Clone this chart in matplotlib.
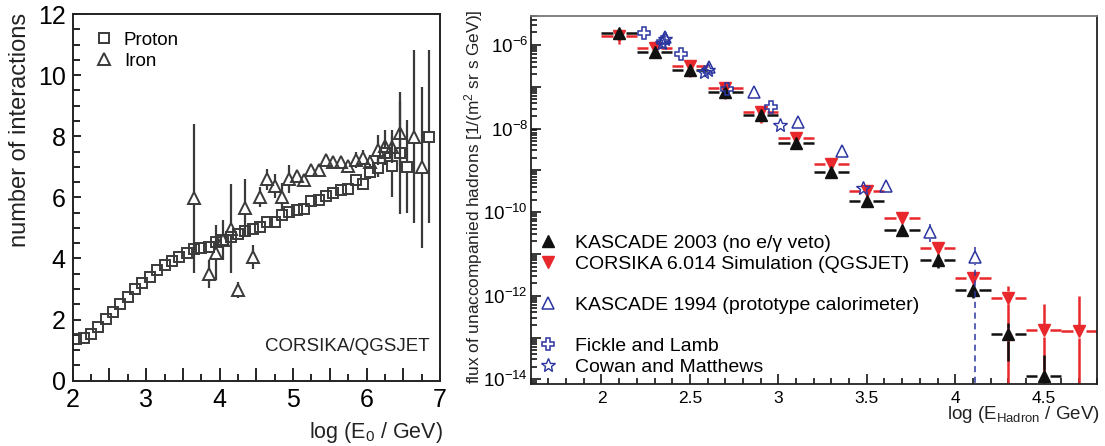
import numpy as np
import matplotlib
matplotlib.use('Agg')
import matplotlib.pyplot as plt
from matplotlib.ticker import MultipleLocator, FuncFormatter, LogLocator, NullFormatter
from matplotlib.lines import Line2D

plt.rcParams['font.family'] = ['Liberation Sans', 'DejaVu Sans']
plt.rcParams['mathtext.default'] = 'regular'

# ---- left panel: number of interactions ----
proton_x = [2.05, 2.15, 2.25, 2.35, 2.45, 2.55, 2.65, 2.75, 2.85, 2.95,
            3.05, 3.15, 3.25, 3.35, 3.45, 3.55, 3.65, 3.75, 3.85, 3.95,
            4.05, 4.15, 4.25, 4.35, 4.45, 4.55, 4.65, 4.75, 4.85, 4.95,
            5.05, 5.15, 5.25, 5.35, 5.45, 5.55, 5.65, 5.75, 5.85, 5.95,
            6.05, 6.15, 6.25, 6.35, 6.45, 6.55, 6.85]
proton_n = [1.35, 1.39, 1.53, 1.77, 2.01, 2.26, 2.50, 2.75, 3.00, 3.21,
            3.40, 3.62, 3.79, 3.93, 4.04, 4.19, 4.30, 4.33, 4.39, 4.55,
            4.60, 4.69, 4.80, 4.91, 4.95, 5.04, 5.20, 5.20, 5.42, 5.51,
            5.59, 5.62, 5.89, 5.91, 6.04, 6.15, 6.24, 6.26, 6.57, 6.44,
            6.84, 6.95, 7.46, 7.02, 7.46, 7.00, 7.98]
proton_err = [0.03, 0.03, 0.03, 0.03, 0.04, 0.04, 0.04, 0.05, 0.05, 0.05,
              0.06, 0.06, 0.07, 0.08, 0.2, 0.1, 0.1, 0.1, 0.1, 0.1,
              0.1, 0.1, 0.1, 0.1, 0.1, 0.1, 0.1, 0.1, 0.12, 0.12,
              0.12, 0.12, 0.12, 0.12, 0.15, 0.15, 0.15, 0.15, 0.2, 0.2,
              0.25, 0.3, 0.4, 1.0, 2.0, 1.52, 2.83]

iron_x = [3.65, 3.85, 3.95, 4.05, 4.15, 4.25, 4.35, 4.45, 4.55, 4.65,
          4.75, 4.85, 4.95, 5.05, 5.15, 5.25, 5.35, 5.45, 5.55, 5.65,
          5.75, 5.85, 5.95, 6.05, 6.15, 6.25, 6.35, 6.45, 6.65, 6.75]
iron_n = [5.97, 3.49, 4.18, 4.60, 4.98, 2.97, 5.66, 4.04, 6.00, 6.59,
          6.37, 6.00, 6.59, 6.70, 6.57, 6.90, 6.90, 7.22, 7.17, 7.17,
          7.02, 7.22, 7.30, 7.17, 7.55, 7.68, 7.66, 8.09, 7.98, 6.98]
iron_err = [2.43, 0.47, 0.90, 0.65, 1.45, 0.25, 0.95, 0.40, 0.33, 0.35,
            0.38, 0.46, 0.46, 0.20, 0.12, 0.10, 0.10, 0.10, 0.10, 0.10,
            0.10, 0.25, 0.25, 0.22, 0.50, 0.52, 0.55, 1.05, 2.83, 2.63]

# ---- right panel: hadron flux ----
bins_kascade = [2.1, 2.3, 2.5, 2.7, 2.9, 3.1, 3.3, 3.5, 3.7, 3.9, 4.1, 4.3, 4.5]
flux_kascade = [1.9e-6, 6.9e-7, 2.5e-7, 7.6e-8, 2.1e-8, 4.5e-9, 9.3e-10,
                1.9e-10, 3.7e-11, 7.2e-12, 1.4e-12, 1.2e-13, 1.2e-14]
up_kascade = [0.3, 0.3, 0.3, 0.3, 0.3, 0.3, 0.3, 0.3, 0.3, 0.35, 0.35, 0.86, 2.2]
lo_kascade = [0.3, 0.3, 0.3, 0.3, 0.3, 0.3, 0.3, 0.3, 0.3, 0.35, 0.35, 0.77, 1.0]

bins_corsika = [2.1, 2.3, 2.5, 2.7, 2.9, 3.1, 3.3, 3.5, 3.7, 3.9, 4.1, 4.3, 4.5, 4.7]
flux_corsika = [1.66e-6, 8.3e-7, 3.2e-7, 9.1e-8, 2.45e-8, 5.9e-9, 1.4e-9,
                3.2e-10, 7.1e-11, 1.4e-11, 2.6e-12, 9.1e-13, 1.5e-13, 1.4e-13]
up_corsika = [0.35, 0.35, 0.4, 0.4, 0.4, 0.4, 0.4, 0.4, 0.4, 0.45, 0.45, 0.86, 3.3, 5.9]
lo_corsika = [0.35, 0.35, 0.45, 0.45, 0.45, 0.45, 0.45, 0.45, 0.45, 0.5, 0.5, 1.0, 1.0, 1.0]

x_k94 = [2.36, 2.61, 2.86, 3.11, 3.36, 3.61, 3.86, 4.11]
flux_k94 = [1.58e-6, 3.0e-7, 7.6e-8, 1.41e-8, 2.95e-9, 4.3e-10, 3.3e-11, 8.3e-12]
up_k94 = [0, 0, 0, 0, 0, 0, 0.62, 0.8]
lo_k94 = [0, 0, 0, 0, 0, 0, 0.4, 1.0]

x_fickle = [2.24, 2.35, 2.45, 2.71, 2.96]
flux_fickle = [1.9e-6, 1.2e-6, 6.0e-7, 8.9e-8, 3.3e-8]

x_cowan = [2.34, 2.36, 2.58, 2.60, 3.01, 3.48]
flux_cowan = [1.12e-6, 1.38e-6, 2.2e-7, 2.5e-7, 1.23e-8, 3.7e-10]

GREY = '#3a3a3a'
RED = '#e8282c'
BLACK = '#111111'
BLUE = '#2b35a0'

fig = plt.figure(figsize=(11.05, 4.46), dpi=100)

# ================= left =================
ax1 = fig.add_axes([0.0658, 0.1464, 0.3324, 0.8222])
ax1.set_xlim(2, 7)
ax1.set_ylim(0, 12)


def open_points(ax, x, y, err, marker, ms, gap_px):
    x, y, err = np.asarray(x), np.asarray(y), np.asarray(err)
    lo, hi = ax.get_ylim()
    gap = gap_px * (hi - lo) / ax.bbox.height
    m = err > gap
    ax.vlines(x[m], y[m] + gap, y[m] + err[m], color=GREY, lw=1.6)
    ax.vlines(x[m], y[m] - err[m], y[m] - gap, color=GREY, lw=1.6)
    ax.plot(x, y, ls='none', marker=marker, ms=ms, mfc='none', mec=GREY, mew=1.4)


open_points(ax1, proton_x, proton_n, proton_err, 's', 7.5, 5.5)
open_points(ax1, iron_x, iron_n, iron_err, '^', 8.5, 6)

ax1.xaxis.set_major_locator(MultipleLocator(0.5))
ax1.xaxis.set_minor_locator(MultipleLocator(0.25))
ax1.xaxis.set_major_formatter(FuncFormatter(
    lambda v, p: '%d' % round(v) if abs(v - round(v)) < 1e-6 else ''))
ax1.yaxis.set_major_locator(MultipleLocator(2))
ax1.yaxis.set_minor_locator(MultipleLocator(0.5))
ax1.tick_params(which='both', direction='in', top=False, right=False, width=1.2,
                labelsize=18, colors='black')
ax1.tick_params(axis='x', which='major', length=9.5, pad=5)
ax1.tick_params(axis='x', which='minor', length=5)
ax1.tick_params(axis='y', which='major', length=6, pad=5)
ax1.tick_params(axis='y', which='minor', length=5)
for s in ax1.spines.values():
    s.set_linewidth(1.4)
    s.set_color('#222222')

h1 = [Line2D([], [], ls='none', marker='s', ms=7.5, mfc='none', mec=GREY, mew=1.4),
      Line2D([], [], ls='none', marker='^', ms=8.5, mfc='none', mec=GREY, mew=1.4)]
ax1.legend(h1, ['Proton', 'Iron'], loc='upper left', bbox_to_anchor=(0.0656, 0.952),
           frameon=False, fontsize=13.5, handlelength=0.8, handletextpad=0.65,
           borderpad=0, borderaxespad=0, labelspacing=0.2, numpoints=1)
ax1.text(0.973, 0.092, 'CORSIKA/QGSJET', transform=ax1.transAxes, ha='right',
         va='center', fontsize=13.5, color='#222222')
fig.text(0.0181, 0.971, 'number of interactions', rotation=90, ha='center', va='top',
         fontsize=17, color='#222222')
fig.text(0.401, 0.031, r'log (E$_{0}$ / GeV)', ha='right', va='center', fontsize=15.5,
         color='#222222')

# ================= right =================
ax2 = fig.add_axes([0.4803, 0.139, 0.5122, 0.8258])
ax2.set_yscale('log')
ax2.set_xlim(1.6, 4.8)
ax2.set_ylim(10 ** -14.11, 10 ** -5.3)
YBOT = 10 ** -14.11


def hist_points(ax, x, y, up, lo, color, xw=0.1, gap_px=6.5, ls='-', lw=1.8):
    x, y = np.asarray(x), np.asarray(y)
    up, lo = np.asarray(up), np.asarray(lo)
    x0, x1 = ax.get_xlim()
    gx = gap_px * (x1 - x0) / ax.bbox.width
    y0, y1 = ax.get_ylim()
    dex = np.log10(y1 / y0) / ax.bbox.height
    gy = 10 ** (gap_px * dex)
    if xw > 0:
        ax.hlines(y, x - xw, x - gx, color=color, lw=lw)
        ax.hlines(y, x + gx, x + xw, color=color, lw=lw)
    yhi = y * (1 + up)
    ylo = np.maximum(y * (1 - lo), YBOT * 1e-3)
    m = yhi > y * gy
    ax.vlines(x[m], y[m] * gy, yhi[m], color=color, lw=lw, linestyles=ls)
    m = ylo < y / gy
    ax.vlines(x[m], ylo[m], y[m] / gy, color=color, lw=lw, linestyles=ls)


hist_points(ax2, bins_corsika, flux_corsika, up_corsika, lo_corsika, RED)
hist_points(ax2, bins_kascade, flux_kascade, up_kascade, lo_kascade, BLACK)
ax2.plot(bins_corsika, flux_corsika, ls='none', marker='v', ms=9, color=RED)
ax2.plot(bins_kascade, flux_kascade, ls='none', marker='^', ms=9, color=BLACK)

hist_points(ax2, x_k94, flux_k94, up_k94, lo_k94, BLUE, xw=0, ls=(0, (4, 3)), lw=1.1)
ax2.plot(x_k94, flux_k94, ls='none', marker='^', ms=9, mfc='none', mec=BLUE, mew=1.1)
ax2.plot(x_fickle, flux_fickle, ls='none', marker='P', ms=9, mfc='none', mec=BLUE, mew=1.1)
ax2.plot(x_cowan, flux_cowan, ls='none', marker='*', ms=10, mfc='none', mec=BLUE, mew=1.0)

ax2.xaxis.set_major_locator(MultipleLocator(0.5))
ax2.xaxis.set_minor_locator(MultipleLocator(0.1))
ax2.xaxis.set_major_formatter(FuncFormatter(lambda v, p: '%g' % round(v, 2)))
ax2.yaxis.set_major_locator(LogLocator(base=10, numticks=30))
ax2.yaxis.set_minor_locator(LogLocator(base=10, subs=np.arange(2, 10), numticks=30))
ax2.yaxis.set_minor_formatter(NullFormatter())
ax2.yaxis.set_major_formatter(FuncFormatter(
    lambda v, p: r'$10^{%d}$' % round(np.log10(v)) if round(np.log10(v)) % 2 == 0 else ''))
ax2.tick_params(which='both', direction='in', top=False, right=False, width=1.1,
                labelsize=12.5, colors='black')
ax2.tick_params(which='major', length=7, pad=5)
ax2.tick_params(which='minor', length=4)
ax2.tick_params(axis='y', which='major', labelsize=13.5, pad=2)
for s in ax2.spines.values():
    s.set_linewidth(1.3)
    s.set_color('#222222')
ax2.spines['top'].set_color('#777777')

h2 = [Line2D([], [], ls='none', marker='^', ms=9, color=BLACK),
      Line2D([], [], ls='none', marker='v', ms=9, color=RED),
      Line2D([], [], ls='none'),
      Line2D([], [], ls='none', marker='^', ms=9, mfc='none', mec=BLUE, mew=1.1),
      Line2D([], [], ls='none'),
      Line2D([], [], ls='none', marker='P', ms=9, mfc='none', mec=BLUE, mew=1.1),
      Line2D([], [], ls='none', marker='*', ms=10, mfc='none', mec=BLUE, mew=1.0)]
l2 = ['KASCADE 2003 (no e/\u03b3 veto)', 'CORSIKA 6.014 Simulation (QGSJET)', ' ',
      'KASCADE 1994 (prototype calorimeter)', ' ', 'Fickle and Lamb', 'Cowan and Matthews']
ax2.legend(h2, l2, loc='lower left', bbox_to_anchor=(0.0134, 0.022), frameon=False,
           fontsize=14, handlelength=1.0, handletextpad=0.9, borderpad=0,
           borderaxespad=0, labelspacing=0.155, numpoints=1)

fig.text(0.429, 0.978, 'flux of unaccompanied hadrons [1/(m$^{2}$ sr s GeV)]',
         rotation=90, ha='center', va='top', fontsize=12.4, color='#222222')
fig.text(0.9955, 0.07, r'log (E$_{Hadron}$ / GeV)', ha='right', va='center',
         fontsize=13.5, color='#222222')

fig.savefig('out.png', dpi=100)
